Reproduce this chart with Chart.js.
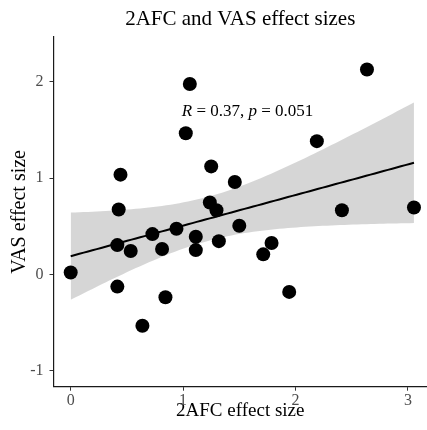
<!DOCTYPE html>
<html>
<head>
<meta charset="utf-8">
<script src="https://cdn.jsdelivr.net/npm/chart.js@4.4.1/dist/chart.umd.min.js"></script>
<style>
    html, body { margin: 0; padding: 0; background: #ffffff; }
    #wrap { width: 427px; height: 430px; }
</style>
</head>
<body>
<div id="wrap"><canvas id="chart" width="427" height="430"></canvas></div>
<script>
    // effect sizes, one entry per participant
    const afcEffect = [0, 0.415, 0.534, 0.727, 0.813, 0.941, 1.113, 1.113, 1.318, 1.5,
        0.415, 0.843, 0.638, 1.787, 1.713, 1.944, 1.06, 1.024, 0.443, 1.25,
        1.46, 0.427, 1.238, 1.297, 2.636, 2.19, 2.413, 3.054];
    const vasEffect = [0.02, 0.305, 0.243, 0.419, 0.264, 0.474, 0.391, 0.253, 0.346, 0.505,
        -0.126, -0.236, -0.533, 0.326, 0.209, -0.181, 1.977, 1.466, 1.036, 1.122,
        0.96, 0.674, 0.747, 0.667, 2.128, 1.384, 0.667, 0.695];

    const xTicks = [0, 1, 2, 3];
    const yTicks = [-1, 0, 1, 2];
    const corLabel = [['R', true], [' = 0.37, ', false], ['p', true], [' = 0.051', false]];

    const SERIF = "'Liberation Serif', 'Times New Roman', serif";
    const T_CRIT = 2.0555; // t(0.975, df = 26)

    // linear fit + 95% band, same as geom_smooth(method = "lm")
    function linearFit(xs, ys) {
        const n = xs.length;
        const mx = xs.reduce((a, b) => a + b, 0) / n;
        const my = ys.reduce((a, b) => a + b, 0) / n;
        let sxx = 0, sxy = 0;
        for (let i = 0; i < n; i++) {
            sxx += (xs[i] - mx) * (xs[i] - mx);
            sxy += (xs[i] - mx) * (ys[i] - my);
        }
        const slope = sxy / sxx;
        const icpt = my - slope * mx;
        let sse = 0;
        for (let i = 0; i < n; i++) {
            const r = ys[i] - (icpt + slope * xs[i]);
            sse += r * r;
        }
        const s = Math.sqrt(sse / (n - 2));
        const lo = Math.min.apply(null, xs), hi = Math.max.apply(null, xs);
        const line = [], upper = [], lower = [];
        for (let k = 0; k < 80; k++) {
            const x = lo + (hi - lo) * k / 79;
            const yhat = icpt + slope * x;
            const se = s * Math.sqrt(1 / n + (x - mx) * (x - mx) / sxx);
            line.push({x: x, y: yhat});
            upper.push({x: x, y: yhat + T_CRIT * se});
            lower.push({x: x, y: yhat - T_CRIT * se});
        }
        return {line: line, upper: upper, lower: lower};
    }

    const fit = linearFit(afcEffect, vasEffect);
    const points = afcEffect.map((x, i) => ({x: x, y: vasEffect[i]}));

    // stat_cor style label, italic R and p
    const corLabelPlugin = {
        id: 'corLabel',
        afterDatasetsDraw: function (chart) {
            const ctx = chart.ctx;
            let px = chart.scales.x.getPixelForValue(0.988);
            const py = chart.scales.y.getPixelForValue(1.645);
            ctx.save();
            ctx.fillStyle = '#000000';
            ctx.textBaseline = 'alphabetic';
            ctx.textAlign = 'left';
            corLabel.forEach(function (part) {
                ctx.font = (part[1] ? 'italic ' : '') + '17px ' + SERIF;
                ctx.fillText(part[0], px, py);
                px += ctx.measureText(part[0]).width;
            });
            ctx.restore();
        }
    };

    const axisCommon = {
        type: 'linear',
        grid: {
            display: true,
            drawOnChartArea: false,
            drawTicks: true,
            tickLength: 4,
            tickColor: '#333333',
            lineWidth: 1
        },
        border: { display: true, color: '#1a1a1a', width: 1.2 }
    };

    new Chart(document.getElementById('chart'), {
        type: 'scatter',
        data: {
            datasets: [
                {
                    label: 'points',
                    data: points,
                    backgroundColor: '#000000',
                    borderWidth: 0,
                    pointRadius: 7,
                    pointHoverRadius: 7,
                    order: 0
                },
                {
                    label: 'fit',
                    type: 'line',
                    data: fit.line,
                    borderColor: '#000000',
                    borderWidth: 2,
                    pointRadius: 0,
                    fill: false,
                    order: 1
                },
                {
                    label: 'upper',
                    type: 'line',
                    data: fit.upper,
                    borderWidth: 0,
                    borderColor: 'rgba(0,0,0,0)',
                    pointRadius: 0,
                    backgroundColor: 'rgba(153,153,153,0.4)',
                    fill: '+1',
                    order: 2
                },
                {
                    label: 'lower',
                    type: 'line',
                    data: fit.lower,
                    borderWidth: 0,
                    borderColor: 'rgba(0,0,0,0)',
                    pointRadius: 0,
                    fill: false,
                    order: 3
                }
            ]
        },
        options: {
            responsive: false,
            animation: false,
            layout: { padding: 0, autoPadding: false },
            plugins: {
                legend: { display: false },
                tooltip: { enabled: false },
                title: {
                    display: true,
                    text: '2AFC and VAS effect sizes',
                    fullSize: false,
                    color: '#000000',
                    font: { family: SERIF, size: 21, weight: 'normal' },
                    padding: { top: 7.3, bottom: 4.5 }
                }
            },
            scales: {
                x: Object.assign({}, axisCommon, {
                    min: -0.153,
                    max: 3.17,
                    afterBuildTicks: function (s) { s.ticks = xTicks.map(v => ({value: v})); },
                    afterFit: function (s) {
                        s.height = 43.3;
                        s.paddingLeft = 0;
                        s.paddingRight = 0;
                    },
                    ticks: {
                        color: '#4D4D4D',
                        padding: 0,
                        maxRotation: 0,
                        font: { family: SERIF, size: 16 }
                    },
                    title: {
                        display: true,
                        text: '2AFC effect size',
                        color: '#000000',
                        font: { family: SERIF, size: 19 },
                        padding: { top: 0, bottom: 8 }
                    }
                }),
                y: Object.assign({}, axisCommon, {
                    min: -1.165,
                    max: 2.465,
                    afterBuildTicks: function (s) { s.ticks = yTicks.map(v => ({value: v})); },
                    afterFit: function (s) {
                        s.width = 53.5;
                        s.paddingTop = 0;
                        s.paddingBottom = 0;
                    },
                    ticks: {
                        color: '#4D4D4D',
                        padding: 6,
                        font: { family: SERIF, size: 16 }
                    },
                    title: {
                        display: true,
                        text: 'VAS effect size',
                        color: '#000000',
                        font: { family: SERIF, size: 20 },
                        padding: { top: 8.2, bottom: 0 }
                    }
                })
            }
        },
        plugins: [corLabelPlugin]
    });
</script>
</body>
</html>
